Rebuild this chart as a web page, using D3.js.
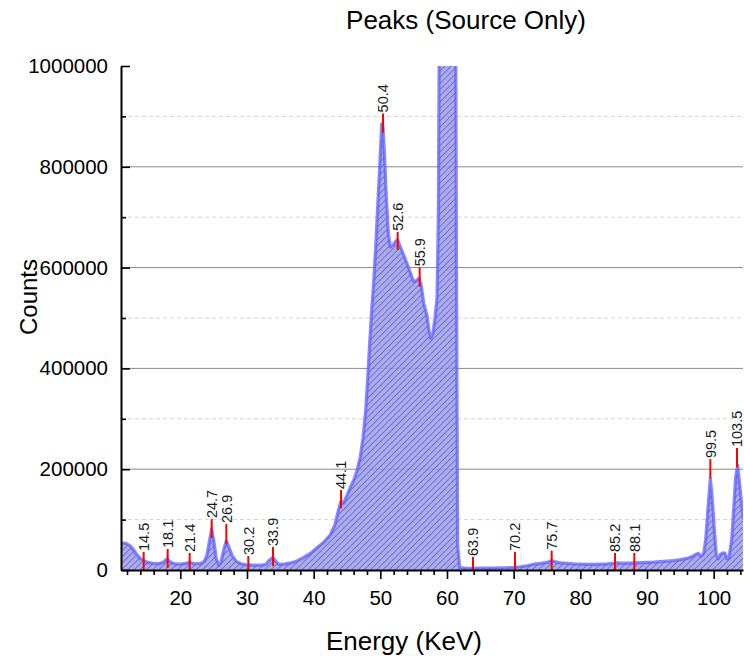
<!DOCTYPE html>
<html>
<head>
<meta charset="utf-8">
<script src="https://cdn.jsdelivr.net/npm/d3@7"></script>
<style>
  body { margin: 0; background: #fff; }
  svg { display: block; }
  text { font-family: "Liberation Sans", Arial, sans-serif; }
</style>
</head>
<body>
<svg id="chart" width="744" height="660"></svg>
<script>
// Source-only spectrum: energy (keV) and counts
const energy = [
  11.1, 11.8, 12.4, 13.0, 13.5, 14.0, 14.6, 15.2, 16.0, 16.8,
  17.5, 18.0, 18.5, 19.2, 20.0, 20.8, 21.4, 22.0, 23.0, 23.6,
  24.0, 24.4, 24.7, 25.0, 25.4, 25.8, 26.1, 26.5, 26.9, 27.3,
  27.8, 28.4, 29.0, 30.0, 31.0, 32.0, 32.8, 33.4, 33.9, 34.4,
  34.8, 35.5, 36.5, 37.5, 38.5, 39.5, 40.5, 41.5, 42.5, 43.2,
  43.7, 44.1, 44.5, 45.0, 45.5, 46.0, 46.5, 47.0, 47.4, 47.8,
  48.1, 48.4, 48.7, 49.0, 49.3, 49.6, 49.9, 50.2, 50.4, 50.6,
  50.9, 51.2, 51.5, 51.9, 52.3, 52.6, 53.0, 53.5, 54.0, 54.5,
  55.0, 55.4, 55.8, 56.1, 56.5, 57.0, 57.3, 57.6, 57.9, 58.2,
  58.5, 58.7, 58.85, 59.5, 60.0, 60.5, 61.0, 61.3, 61.45, 61.6,
  61.9, 63.0, 64.0, 65.0, 66.0, 67.0, 68.0, 69.0, 70.0, 71.0,
  72.0, 73.0, 74.0, 75.0, 75.7, 76.3, 77.0, 78.0, 79.0, 80.0,
  81.0, 82.0, 83.0, 84.0, 85.0, 85.5, 86.0, 87.0, 88.0, 89.0,
  90.0, 91.0, 92.0, 93.0, 94.0, 95.0, 96.0, 96.8, 97.3, 97.7,
  98.1, 98.5, 98.8, 99.1, 99.5, 99.8, 100.1, 100.4, 100.7, 101.0,
  101.4, 101.7, 102.0, 102.3, 102.7, 103.0, 103.3, 103.6, 103.9, 104.2,
  104.5
];
const counts = [
  54000, 53000, 49000, 40000, 30000, 23000, 18000, 15000, 13000, 12500,
  16000, 22000, 16000, 12000, 11500, 13000, 16000, 12500, 12500, 17000,
  30000, 60000, 82000, 60000, 22000, 9000, 15000, 40000, 58000, 45000,
  28000, 17000, 13000, 10000, 9500, 9500, 11000, 20000, 25000, 16000,
  11000, 11500, 14000, 18000, 25000, 33000, 44000, 55000, 70000, 90000,
  118000, 137000, 133000, 148000, 164000, 178000, 197000, 225000, 262000, 316000,
  380000, 450000, 515000, 570000, 641000, 720000, 800000, 885000, 880000, 830000,
  740000, 668000, 641000, 645000, 652000, 655000, 641000, 625000, 608000, 590000,
  572000, 574000, 579000, 568000, 530000, 505000, 475000, 460000, 470000, 500000,
  540000, 700000, 1100000, 2000000, 2400000, 2200000, 1800000, 1100000, 500000, 50000,
  5000, 3500, 3500, 3600, 3800, 4000, 4200, 4500, 5000, 6500,
  8500, 11500, 13000, 15000, 19000, 16000, 14000, 13000, 12000, 11500,
  11000, 11000, 11500, 12000, 13500, 14500, 13500, 13500, 14000, 14500,
  15000, 15500, 16500, 17500, 18500, 20500, 23000, 27000, 31000, 33000,
  27000, 33000, 60000, 115000, 182000, 140000, 80000, 30000, 22000, 31000,
  34000, 33000, 22000, 25000, 60000, 120000, 185000, 208000, 170000, 130000,
  100000
];

// Labelled peaks: energy, and the count range each red marker spans
const peakEnergy = [14.5, 18.1, 21.4, 24.7, 26.9, 30.2, 33.9, 44.1, 50.4, 52.6,
                    55.9, 63.9, 70.2, 75.7, 85.2, 88.1, 99.5, 103.5];
const peakLow  = [0, 4000, 0, 63500, 51600, 0, 8000, 122400, 867700, 635000,
                  562000, 0, 0, 0, 0, 0, 182000, 204000];
const peakHigh = [35700, 41700, 33700, 101000, 91300, 27800, 45600, 158700, 906000, 671000,
                  600600, 25800, 35700, 38300, 33700, 33700, 220000, 242000];

const xTicks = [20, 30, 40, 50, 60, 70, 80, 90, 100];
const xMinorTicks = d3.range(12, 105, 2);
const yTicks = [0, 200000, 400000, 600000, 800000, 1000000];
const yMinorTicks = [100000, 300000, 500000, 700000, 900000];
const yGridMajor = [200000, 400000, 600000, 800000];

const svg = d3.select("#chart");
const plotL = 121, plotR = 743, plotT = 66, plotB = 570;

const x = d3.scaleLinear().domain([11.1, 104.4]).range([plotL, plotR]);
const y = d3.scaleLinear().domain([0, 1000000]).range([plotB, plotT]);

// hatch pattern
const defs = svg.append("defs");
const pat = defs.append("pattern")
  .attr("id", "hatch").attr("patternUnits", "userSpaceOnUse")
  .attr("width", 4.4).attr("height", 4.4)
  .attr("patternTransform", "rotate(45)");
pat.append("rect").attr("width", 4.4).attr("height", 4.4).attr("fill", "#a0a0f4");
pat.append("line").attr("x1", 0.5).attr("y1", 0).attr("x2", 0.5).attr("y2", 4.4)
  .attr("stroke", "#4a4a96").attr("stroke-width", 0.75);

defs.append("clipPath").attr("id", "plotClip")
  .append("rect").attr("x", plotL).attr("y", plotT)
  .attr("width", plotR - plotL).attr("height", plotB - plotT);

// gridlines
svg.append("g").selectAll("line").data(yMinorTicks).join("line")
  .attr("x1", plotL).attr("x2", plotR)
  .attr("y1", d => y(d)).attr("y2", d => y(d))
  .attr("stroke", "#d2d2d2").attr("stroke-width", 1).attr("stroke-dasharray", "4,3");
svg.append("g").selectAll("line").data(yGridMajor).join("line")
  .attr("x1", plotL).attr("x2", plotR)
  .attr("y1", d => y(d)).attr("y2", d => y(d))
  .attr("stroke", "#8a8a8a").attr("stroke-width", 1);

const pts = energy.map((e, i) => [e, counts[i]]);

const plot = svg.append("g").attr("clip-path", "url(#plotClip)");
plot.append("path").datum(pts)
  .attr("d", d3.area().x(d => x(d[0])).y0(y(0)).y1(d => y(d[1])))
  .attr("fill", "url(#hatch)").attr("fill-opacity", 0.88);
plot.append("path").datum(pts)
  .attr("d", d3.line().x(d => x(d[0])).y(d => y(d[1])))
  .attr("fill", "none").attr("stroke", "#5a5aff").attr("stroke-opacity", 0.72)
  .attr("stroke-width", 3.2).attr("stroke-linejoin", "round");

// peak markers and labels
const peaks = peakEnergy.map((e, i) => ({ e, lo: peakLow[i], hi: peakHigh[i] }));
const pk = svg.append("g");
pk.selectAll("line").data(peaks).join("line")
  .attr("x1", d => x(d.e)).attr("x2", d => x(d.e))
  .attr("y1", d => y(d.lo)).attr("y2", d => y(d.hi))
  .attr("stroke", "#ff0000").attr("stroke-width", 2);
pk.selectAll("text").data(peaks).join("text")
  .attr("transform", d => `translate(${x(d.e)},${y(d.hi) - 1}) rotate(-90)`)
  .attr("dy", "0.36em")
  .attr("font-size", 14.5).attr("fill", "#1a1a1a")
  .text(d => d.e.toFixed(1));

// axes
svg.append("g").attr("transform", `translate(${plotL},0)`)
  .call(d3.axisLeft(y).tickValues(yTicks).tickFormat(d3.format("d"))
    .tickSizeInner(-9).tickSizeOuter(0).tickPadding(13));
svg.append("g").attr("transform", `translate(${plotL},0)`)
  .call(d3.axisLeft(y).tickValues(yMinorTicks).tickFormat("")
    .tickSizeInner(-5).tickSizeOuter(0))
  .call(g => g.select(".domain").remove());

svg.append("g").attr("transform", `translate(0,${plotB})`)
  .call(d3.axisBottom(x).tickValues(xTicks).tickSizeInner(9).tickSizeOuter(0).tickPadding(11));
svg.append("g").attr("transform", `translate(0,${plotB})`)
  .call(d3.axisBottom(x).tickValues(xMinorTicks.filter(v => v % 10 !== 0)).tickFormat("")
    .tickSizeInner(5).tickSizeOuter(0))
  .call(g => g.select(".domain").remove());

svg.selectAll(".domain").attr("stroke", "#000").attr("stroke-width", 2);
svg.selectAll(".tick line").attr("stroke", "#000").attr("stroke-width", 1.6);
svg.selectAll(".tick text").attr("font-size", 20.5).attr("fill", "#000")
  .attr("font-family", "'Liberation Sans', Arial, sans-serif");

// titles
svg.append("text").attr("x", 466).attr("y", 29).attr("text-anchor", "middle")
  .attr("font-size", 26).attr("fill", "#000").text("Peaks (Source Only)");
svg.append("text").attr("x", 404).attr("y", 650).attr("text-anchor", "middle")
  .attr("font-size", 26).attr("fill", "#000").text("Energy (KeV)");
svg.append("text").attr("transform", "translate(37,297) rotate(-90)")
  .attr("text-anchor", "middle")
  .attr("font-size", 24).attr("fill", "#000").text("Counts");
</script>
</body>
</html>
